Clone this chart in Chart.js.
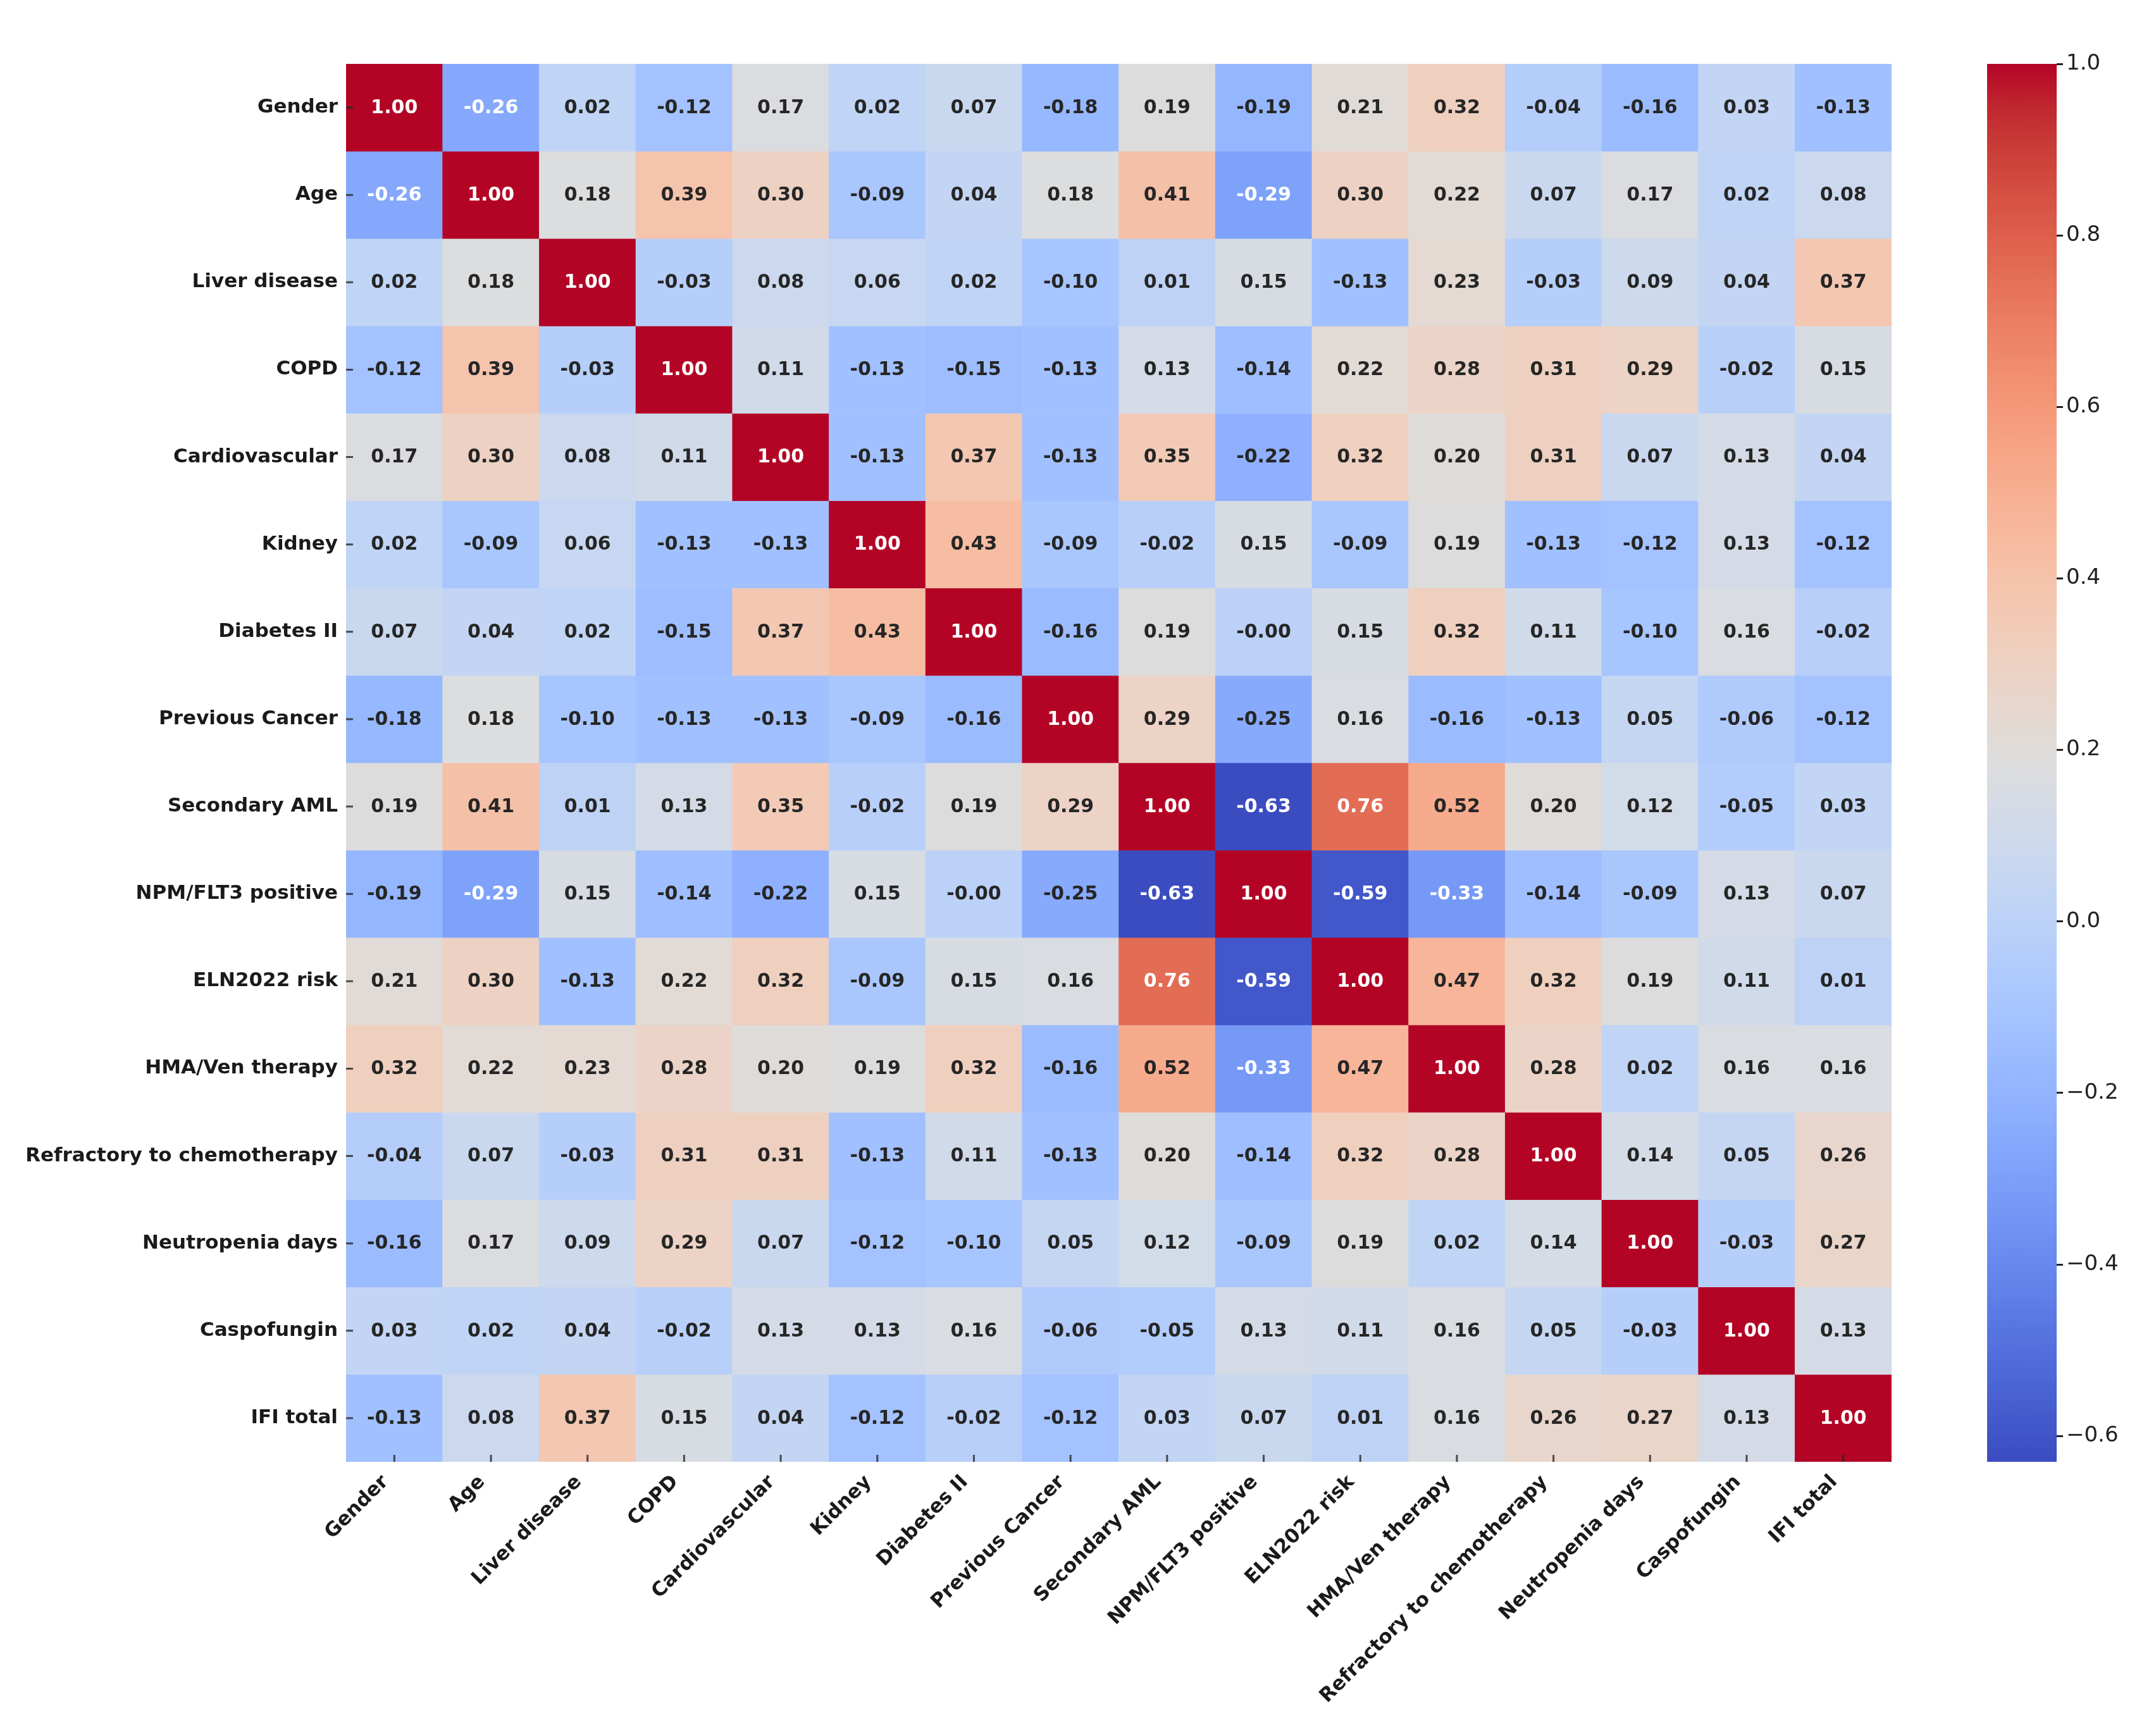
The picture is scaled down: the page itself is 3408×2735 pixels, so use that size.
<!DOCTYPE html>
<html><head><meta charset="utf-8">
<script src="https://cdn.jsdelivr.net/npm/chart.js@4.4.1/dist/chart.umd.min.js"></script>
<style>
html,body{margin:0;padding:0;background:#fff;width:3408px;height:2735px;overflow:hidden}
#heat{position:absolute;left:0;top:0}
#cbar{position:absolute;left:3141px;top:0}
</style></head><body>
<canvas id="heat" width="3100" height="2735"></canvas>
<canvas id="cbar" width="267" height="2735"></canvas>
<script>
const labels = ["Gender","Age","Liver disease","COPD","Cardiovascular","Kidney","Diabetes II","Previous Cancer","Secondary AML","NPM/FLT3 positive","ELN2022 risk","HMA/Ven therapy","Refractory to chemotherapy","Neutropenia days","Caspofungin","IFI total"];

const rGender      = [1.00,-0.26,0.02,-0.12,0.17,0.02,0.07,-0.18,0.19,-0.19,0.21,0.32,-0.04,-0.16,0.03,-0.13];
const rAge         = [-0.26,1.00,0.18,0.39,0.30,-0.09,0.04,0.18,0.41,-0.29,0.30,0.22,0.07,0.17,0.02,0.08];
const rLiver       = [0.02,0.18,1.00,-0.03,0.08,0.06,0.02,-0.10,0.01,0.15,-0.13,0.23,-0.03,0.09,0.04,0.37];
const rCOPD        = [-0.12,0.39,-0.03,1.00,0.11,-0.13,-0.15,-0.13,0.13,-0.14,0.22,0.28,0.31,0.29,-0.02,0.15];
const rCardio      = [0.17,0.30,0.08,0.11,1.00,-0.13,0.37,-0.13,0.35,-0.22,0.32,0.20,0.31,0.07,0.13,0.04];
const rKidney      = [0.02,-0.09,0.06,-0.13,-0.13,1.00,0.43,-0.09,-0.02,0.15,-0.09,0.19,-0.13,-0.12,0.13,-0.12];
const rDiabetes    = [0.07,0.04,0.02,-0.15,0.37,0.43,1.00,-0.16,0.19,-0.001,0.15,0.32,0.11,-0.10,0.16,-0.02];
const rPrevCancer  = [-0.18,0.18,-0.10,-0.13,-0.13,-0.09,-0.16,1.00,0.29,-0.25,0.16,-0.16,-0.13,0.05,-0.06,-0.12];
const rSecAML      = [0.19,0.41,0.01,0.13,0.35,-0.02,0.19,0.29,1.00,-0.63,0.76,0.52,0.20,0.12,-0.05,0.03];
const rNPM         = [-0.19,-0.29,0.15,-0.14,-0.22,0.15,-0.001,-0.25,-0.63,1.00,-0.59,-0.33,-0.14,-0.09,0.13,0.07];
const rELN         = [0.21,0.30,-0.13,0.22,0.32,-0.09,0.15,0.16,0.76,-0.59,1.00,0.47,0.32,0.19,0.11,0.01];
const rHMA         = [0.32,0.22,0.23,0.28,0.20,0.19,0.32,-0.16,0.52,-0.33,0.47,1.00,0.28,0.02,0.16,0.16];
const rRefractory  = [-0.04,0.07,-0.03,0.31,0.31,-0.13,0.11,-0.13,0.20,-0.14,0.32,0.28,1.00,0.14,0.05,0.26];
const rNeutropenia = [-0.16,0.17,0.09,0.29,0.07,-0.12,-0.10,0.05,0.12,-0.09,0.19,0.02,0.14,1.00,-0.03,0.27];
const rCaspo       = [0.03,0.02,0.04,-0.02,0.13,0.13,0.16,-0.06,-0.05,0.13,0.11,0.16,0.05,-0.03,1.00,0.13];
const rIFI         = [-0.13,0.08,0.37,0.15,0.04,-0.12,-0.02,-0.12,0.03,0.07,0.01,0.16,0.26,0.27,0.13,1.00];

const rows = [rGender,rAge,rLiver,rCOPD,rCardio,rKidney,rDiabetes,rPrevCancer,rSecAML,rNPM,rELN,rHMA,rRefractory,rNeutropenia,rCaspo,rIFI];
const cbarTicks = [-0.6,-0.4,-0.2,0.0,0.2,0.4,0.6,0.8,1.0];

const vmin = Math.min(...rows.flat());
const vmax = 1.0;

// matplotlib coolwarm anchor colours
const CW = [
[0.2298057,0.298717966,0.753683153],[0.26623388,0.353094838,0.801466763],[0.30386891,0.406535296,0.84495867],
[0.342804478,0.458757618,0.883725899],[0.38301334,0.50941904,0.917387822],[0.424369608,0.558148092,0.945619588],
[0.46666708,0.604562568,0.968154911],[0.509635204,0.648280772,0.98478814],[0.552953156,0.688929332,0.995375608],
[0.596262162,0.726149107,0.999836203],[0.639176211,0.759599947,0.998151185],[0.681291281,0.788964712,0.990363227],
[0.722193294,0.813952739,0.976574709],[0.761464949,0.834302879,0.956945269],[0.798691636,0.849786142,0.931688648],
[0.833466556,0.860207984,0.901068838],[0.865395197,0.86541021,0.865395561],[0.897787179,0.848937047,0.820880546],
[0.924127593,0.827384882,0.774508472],[0.944468518,0.800927443,0.726736146],[0.958852946,0.769767752,0.678007945],
[0.96732803,0.734132809,0.628751763],[0.969954137,0.694266682,0.579375448],[0.966811177,0.650421156,0.530263762],
[0.958003065,0.602842431,0.481775914],[0.943660866,0.551750968,0.434243684],[0.923944917,0.49730856,0.387970225],
[0.89904617,0.439559467,0.343229596],[0.869186849,0.378313092,0.300267182],[0.834620542,0.312874446,0.259301199],
[0.795631745,0.24128379,0.220525627],[0.752534934,0.157246067,0.184115123],[0.705673158,0.01555616,0.150232812]];

function cmapRGB(t){
  t = Math.max(0, Math.min(1, t));
  const p = t * (CW.length - 1);
  const i = Math.min(CW.length - 2, Math.floor(p));
  const f = p - i;
  return [0,1,2].map(k => CW[i][k] + (CW[i+1][k] - CW[i][k]) * f);
}
function toCss(rgb){ return 'rgb(' + rgb.map(v => Math.round(v*255)).join(',') + ')'; }
function norm(v){ return (v - vmin) / (vmax - vmin); }
function lum(rgb){
  const c = rgb.map(v => v <= 0.03928 ? v/12.92 : Math.pow((v+0.055)/1.055, 2.4));
  return 0.2126*c[0] + 0.7152*c[1] + 0.0722*c[2];
}

Chart.defaults.font.family = "'DejaVu Sans', sans-serif";

const datasets = rows.map((vals, r) => ({
  label: labels[r],
  data: vals.map(() => [r, r + 1]),
  backgroundColor: vals.map(v => toCss(cmapRGB(norm(v)))),
  borderWidth: 0,
  barPercentage: 1,
  categoryPercentage: 1,
  grouped: false
}));

const annotate = {
  id: 'annotate',
  afterDatasetsDraw(chart) {
    const ctx = chart.ctx;
    ctx.save();
    ctx.font = "bold 30px 'DejaVu Sans'";
    ctx.textAlign = 'center';
    ctx.textBaseline = 'middle';
    rows.forEach((vals, r) => {
      const meta = chart.getDatasetMeta(r);
      meta.data.forEach((el, c) => {
        const v = vals[c];
        ctx.fillStyle = lum(cmapRGB(norm(v))) > 0.408 ? '#262626' : '#ffffff';
        ctx.fillText(v.toFixed(2), el.x, (el.y + el.base) / 2 + 1);
      });
    });
    // small tick marks drawn inside the grid edges
    const xs = chart.scales.x, ys = chart.scales.y, a = chart.chartArea;
    ctx.strokeStyle = 'rgba(38,38,38,0.8)';
    ctx.lineWidth = 3;
    ctx.beginPath();
    xs.ticks.forEach((t, i) => {
      const px = xs.getPixelForTick(i);
      ctx.moveTo(px, a.bottom); ctx.lineTo(px, a.bottom - 11);
    });
    ys.ticks.forEach((t, i) => {
      const py = ys.getPixelForTick(i);
      ctx.moveTo(a.left, py); ctx.lineTo(a.left + 11, py);
    });
    ctx.stroke();
    ctx.restore();
  }
};

new Chart(document.getElementById('heat'), {
  type: 'bar',
  data: { labels: labels, datasets: datasets },
  plugins: [annotate],
  options: {
    responsive: false,
    animation: false,
    devicePixelRatio: 1,
    layout: { padding: { left: 0, top: 101, right: 110, bottom: 0 } },
    plugins: { legend: { display: false }, tooltip: { enabled: false } },
    scales: {
      x: {
        type: 'category',
        offset: true,
        afterFit: s => { s.height = 424; },
        grid: { display: false, drawTicks: false },
        border: { display: false },
        ticks: {
          autoSkip: false, minRotation: 45, maxRotation: 45,
          padding: 14, labelOffset: -14,
          color: '#1a1a1a', font: { size: 31, weight: 'bold' }
        }
      },
      y: {
        type: 'linear', min: 0, max: labels.length, reverse: true,
        afterBuildTicks: s => { s.ticks = labels.map((_, i) => ({ value: i + 0.5 })); },
        afterFit: s => { s.width = 547; },
        grid: { display: false, drawTicks: false },
        border: { display: false },
        ticks: {
          autoSkip: false, padding: 13,
          color: '#1a1a1a', font: { size: 31, weight: 'bold' },
          callback: v => labels[Math.floor(v)]
        }
      }
    }
  }
});

function gradientFill(ctx) {
  const area = ctx.chart.chartArea;
  if (!area) return toCss(cmapRGB(1));
  const g = ctx.chart.ctx.createLinearGradient(0, area.bottom, 0, area.top);
  for (let i = 0; i <= 64; i++) {
    const t = i / 64;
    g.addColorStop(t, toCss(cmapRGB(t)));
  }
  return g;
}

new Chart(document.getElementById('cbar'), {
  type: 'bar',
  data: { labels: [''], datasets: [{
    data: [[vmin, vmax]],
    backgroundColor: gradientFill,
    borderWidth: 0, barPercentage: 1, categoryPercentage: 1
  }]},
  options: {
    responsive: false,
    animation: false,
    devicePixelRatio: 1,
    layout: { padding: { left: 0, top: 101, right: 0, bottom: 424 } },
    plugins: { legend: { display: false }, tooltip: { enabled: false } },
    scales: {
      x: { display: false, offset: true },
      y: {
        position: 'right', min: vmin, max: vmax,
        afterBuildTicks: s => { s.ticks = cbarTicks.map(v => ({ value: v })); },
        afterFit: s => { s.width = 157; },
        grid: { drawOnChartArea: false, drawTicks: true, tickLength: 10, tickWidth: 3, tickColor: '#222' },
        border: { display: false },
        ticks: {
          padding: 5, color: '#222', font: { size: 34 },
          callback: v => v.toFixed(1).replace('-', '\u2212')
        }
      }
    }
  }
});
</script>
</body></html>
